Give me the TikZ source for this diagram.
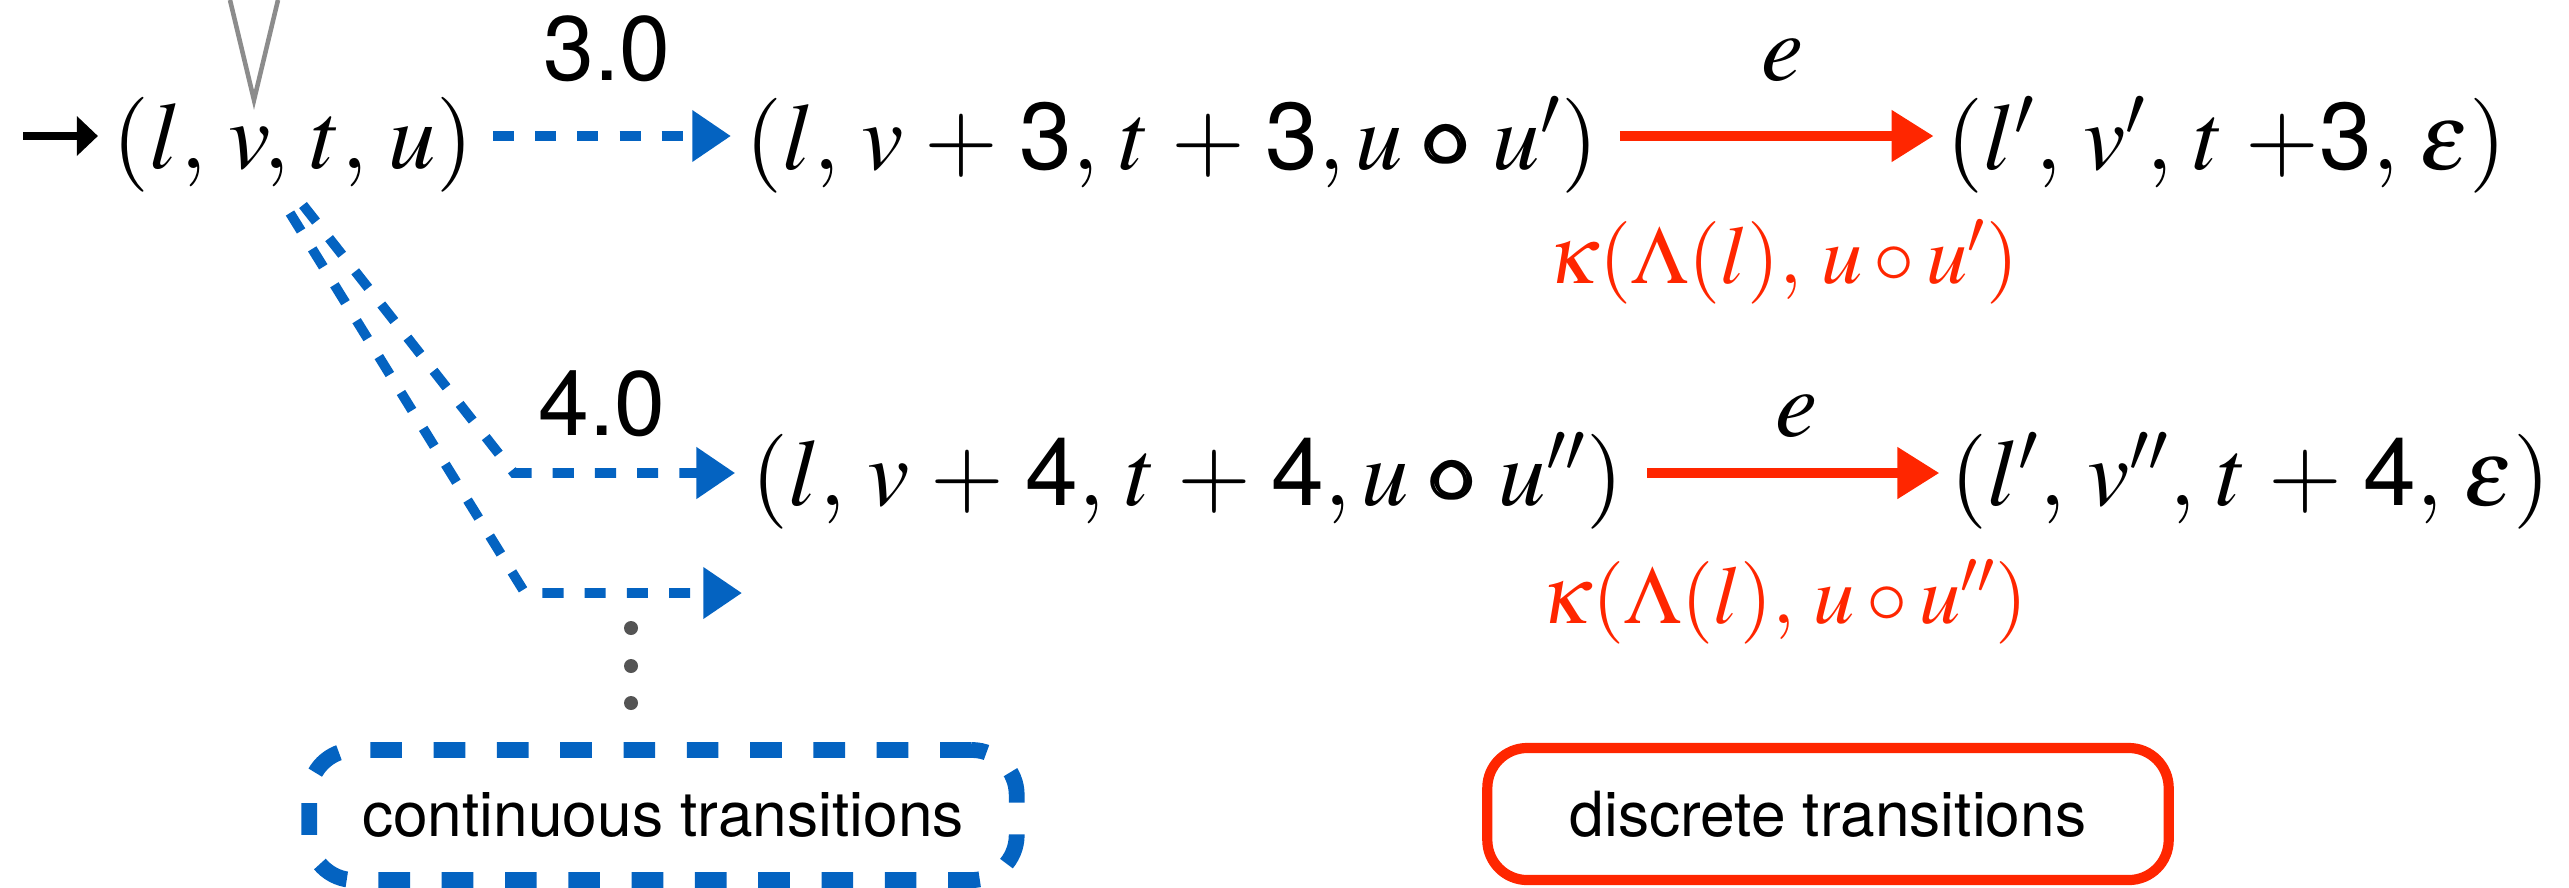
\documentclass[tikz,border=0pt]{standalone}
\usepackage{amsmath}
\usepackage{mathptmx}
\usepackage{fontspec}
\newfontfamily\hv{TeX Gyre Heros}
\usetikzlibrary{arrows.meta}
\definecolor{contblue}{RGB}{4,99,193}
\definecolor{discred}{RGB}{255,38,0}
\newcommand{\dig}[1]{\text{\hv #1}}
\newcommand{\cmp}{\mathbin{\pmb{\circ}}}
\newcommand{\widebin}{\medmuskip=4mu\relax}

\begin{document}
\begin{tikzpicture}[x=0.01cm,y=-0.01cm,every node/.style={inner sep=0pt},
  state/.style={font={\fontsize{27}{32}\selectfont\widebin},anchor=west},
  lbl/.style={font=\hv\fontsize{26}{30}\selectfont},
  elbl/.style={font=\fontsize{27}{32}\selectfont},
  klbl/.style={font=\fontsize{23.5}{28}\selectfont,text=discred},
  cont/.style={draw=contblue,line width=2.8pt,dash pattern=on 6pt off 6pt,
    -{Triangle[length=11pt,width=14pt]}},
  disc/.style={draw=discred,line width=3pt,-{Triangle[length=12pt,width=14pt]}},
  box/.style={font=\hv\fontsize{17.7}{21}\selectfont}]
\useasboundingbox (0,0) rectangle (2569,887);
\draw[black!45,line width=1.3pt] (230,0) -- (254,100) -- (278,0);
\node[state] (s0) at (112,145) {$(l,\,v,\,t,\,u)$};
\node[state] (s1) at (745,145) {$(l,\,v+\dig{3},\,t+\dig{3},u\cmp u')$};
\node[state] (s2) at (1946,145) {$(l',\,v',\,t\;{+}\dig{3},\,\varepsilon)$};
\node[state] (s3) at (751,481) {$(l,\,v+\dig{4},\,t+\dig{4},u\cmp u'')$};
\node[state] (s4) at (1950,481) {$(l',\,v'',\,t+\dig{4},\,\varepsilon)$};
\coordinate (init) at (23,136);
\draw[line width=2pt,-{Triangle[length=6pt,width=11pt]},shorten >=4pt] (init) -- (init -| s0.west);
\draw[cont,shorten <=5.5pt,shorten >=4pt] ([yshift=0.09cm]s0.east) -- ([yshift=0.09cm]s1.west);
\node[lbl] (w1) at (607,49) {3.0};
\coordinate (b1) at (303,205);
\coordinate (b2) at (290,213);
\coordinate (c1) at (514,473);
\coordinate (c2) at (525,593);
\coordinate (o3) at (742,593);
\draw[cont,shorten >=4.5pt] (b1) -- (c1) -- (c1 -| s3.west);
\draw[cont] (b2) -- (c2) -- (o3);
\node[lbl] (w2) at (602,404) {4.0};
\draw[disc,shorten <=6pt,shorten >=3.5pt] ([yshift=0.09cm]s1.east) -- ([yshift=0.09cm]s2.west);
\node[elbl] (e1) at (1783,60) {$e$};
\node[klbl] (k1) at (1783,262) {$\kappa(\Lambda(l),\,u\circ u')$};
\draw[disc,shorten <=6.5pt,shorten >=3pt] ([yshift=0.08cm]s3.east) -- ([yshift=0.08cm]s4.west);
\node[elbl] (e2) at (1797,416) {$e$};
\node[klbl] (k2) at (1784,602) {$\kappa(\Lambda(l),\,u\circ u'')$};
\foreach \y in {628,666,703}
  \fill[black!67] (631,\y) circle (0.07cm);
\node[box,draw=contblue,line width=4.5pt,dash pattern=on 9pt off 9pt,rounded corners=0.45cm,
  minimum width=7.07cm,minimum height=1.3cm] (cbox) at (663,815) {continuous transitions};
\node[box,draw=discred,line width=2.9pt,rounded corners=0.4cm,minimum width=6.81cm,
  minimum height=1.32cm] (dbox) at (1828,814) {discrete transitions};
\end{tikzpicture}
\end{document}
